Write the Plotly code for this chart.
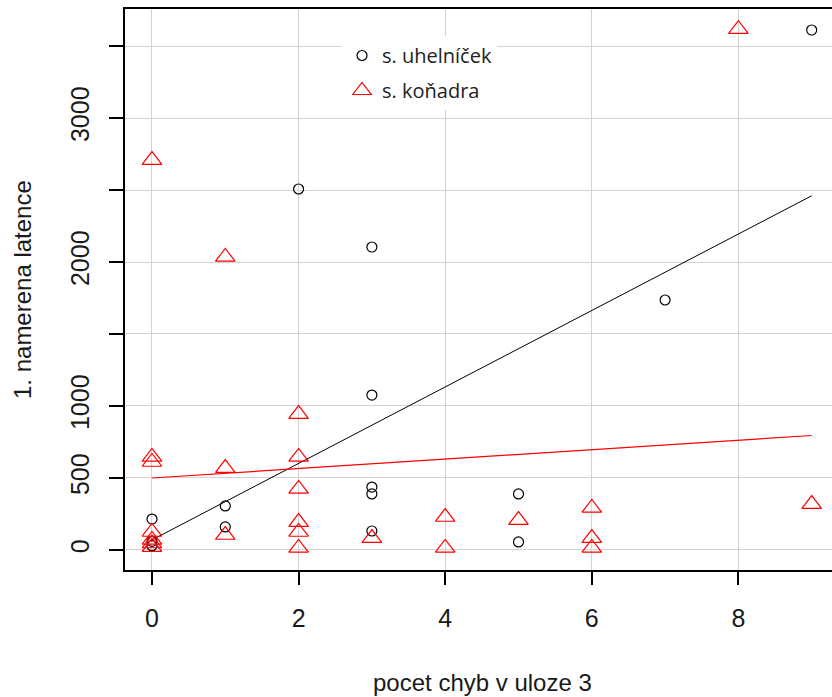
import plotly.graph_objects as go

# s. uhelníček (circles)
uhel_x = [0, 0, 0, 1, 1, 2, 3, 3, 3, 3, 3, 5, 5, 7, 9]
uhel_y = [30, 60, 215, 306, 160, 2507, 2104, 1076, 437, 389, 132, 389, 56, 1736, 3611]

# s. koňadra (triangles)
kon_x = [0, 0, 0, 0, 0, 0, 0, 1, 1, 1, 2, 2, 2, 2, 2, 2, 3, 4, 4, 5, 6, 6, 6, 8, 9]
kon_y = [2708, 646, 611, 125, 20, 45, 70, 2035, 569, 104, 944, 646, 424, 194, 125, 14,
         83, 229, 14, 208, 292, 83, 14, 3617, 319]

# fitted lines (read endpoints)
fit_x = [0, 9]
uhel_fit = [70, 2460]
kon_fit = [500, 795]

x_ticks = [0, 2, 4, 6, 8]
y_ticks = [0, 500, 1000, 1500, 2000, 2500, 3000, 3500]
y_ticktext = ["0", "500", "1000", "", "2000", "", "3000", ""]

W, H = 832, 697
L, T, B = 125, 9, 127
pw = W - L
ph = H - T - B

fig = go.Figure()
fig.add_trace(go.Scatter(x=fit_x, y=uhel_fit, mode="lines",
                         line=dict(color="black", width=1), showlegend=False, hoverinfo="skip"))
fig.add_trace(go.Scatter(x=fit_x, y=kon_fit, mode="lines",
                         line=dict(color="red", width=1.2), showlegend=False, hoverinfo="skip"))
fig.add_trace(go.Scatter(x=uhel_x, y=uhel_y, mode="markers", name="s. uhelníček",
                         legendgroup="a",
                         marker=dict(symbol="circle-open", size=10, color="black",
                                     line=dict(width=1.2, color="black"))))
fig.add_trace(go.Scatter(x=kon_x, y=kon_y, mode="markers", name="s. koňadra",
                         legendgroup="b",
                         marker=dict(symbol="triangle-up-open", size=17, color="red",
                                     line=dict(width=1.2, color="red"))))

tick_font = dict(family="Liberation Sans, Arial, sans-serif", size=25, color="#1a1a1a")
title_font = dict(family="Liberation Sans, Arial, sans-serif", size=24, color="#1a1a1a")

fig.update_layout(
    width=W, height=H,
    margin=dict(l=L, r=0, t=T, b=B),
    paper_bgcolor="white", plot_bgcolor="white",
    showlegend=True,
    legend=dict(x=(342 - L) / pw, y=1 - (36 - T) / ph, xanchor="left", yanchor="top",
                bgcolor="white", borderwidth=0, traceorder="grouped", tracegroupgap=6,
                font=dict(family="Open Sans, sans-serif", size=20, color="#222"),
                itemwidth=30),
    xaxis=dict(range=[-0.368, 9.277], tickmode="array", tickvals=x_ticks,
               showgrid=True, gridcolor="#d3d3d3", gridwidth=1,
               zeroline=False, showline=True, linecolor="black", linewidth=1.5,
               mirror=True, ticks="outside", ticklen=13, tickwidth=1.5, tickcolor="black",
               tickfont=tick_font, ticklabelstandoff=12),
    yaxis=dict(range=[-139, 3757], tickmode="array", tickvals=y_ticks, ticktext=y_ticktext,
               showgrid=True, gridcolor="#d3d3d3", gridwidth=1,
               zeroline=False, showline=True, linecolor="black", linewidth=1.5,
               mirror=False, ticks="outside", ticklen=14, tickwidth=1.5, tickcolor="black",
               tickfont=tick_font, tickangle=-90, ticklabelstandoff=10),
    annotations=[
        dict(text="pocet chyb v uloze 3", xref="paper", yref="paper",
             x=(482 - L) / pw, y=-(682 - (T + ph)) / ph, xanchor="center", yanchor="middle",
             showarrow=False, font=title_font),
        dict(text="1. namerena latence", xref="paper", yref="paper",
             x=(22 - L) / pw, y=1 - (290 - T) / ph, xanchor="center", yanchor="middle",
             textangle=-90, showarrow=False, font=title_font),
    ],
)

fig.write_html("out.html")
